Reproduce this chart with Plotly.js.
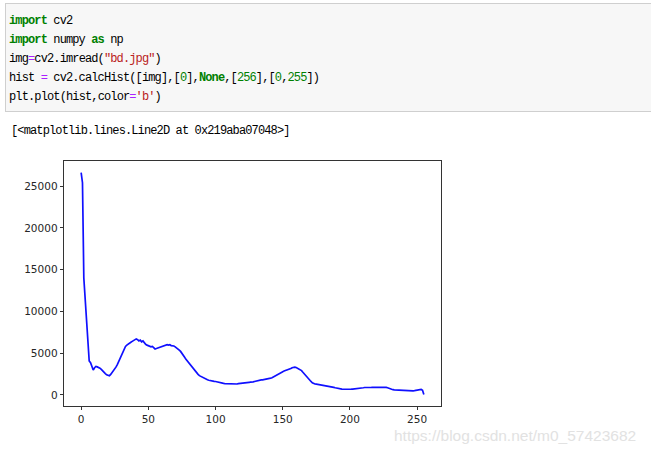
<!DOCTYPE html>
<html>
<head>
<meta charset="utf-8">
<script src="https://cdn.plot.ly/plotly-3.0.1.min.js"></script>
<style>
  html, body { margin:0; padding:0; background:#fff; width:651px; height:456px; overflow:hidden; }
  #cell { position:absolute; left:5px; top:3px; width:700px; height:109px; background:#f7f7f7; border:1px solid #cfcfcf; box-sizing:border-box; }
  .tok { position:absolute; font-family:"Liberation Mono","DejaVu Sans Mono",monospace; font-size:12px; letter-spacing:-0.87px; color:#000; white-space:pre; line-height:14px; }
  .k { color:#008000; font-weight:bold; }
  .o { color:#aa22ff; }
  .s { color:#ba2121; }
  .n { color:#008000; }
  #plot { position:absolute; left:0; top:0; width:651px; height:456px; }
  #wm { position:absolute; left:394px; top:427px; font-family:"Liberation Sans",Arial,sans-serif; font-size:15.5px; color:#e2e2e2; white-space:pre; }
</style>
</head>
<body>
<div id="cell"></div>
<div id="codeLayer"></div>
<div id="plot"></div>
<div id="wm">https://blog.csdn.net/m0_57423682</div>
<script>
// Notebook cell text: each line is a list of [text, style] tokens
const codeLines = [
  [["import", "k"], [" cv2", ""]],
  [["import", "k"], [" numpy ", ""], ["as", "k"], [" np", ""]],
  [["img", ""], ["=", "o"], ["cv2.imread(", ""], ["\"bd.jpg\"", "s"], [")", ""]],
  [["hist ", ""], ["=", "o"], [" cv2.calcHist([img],[", ""], ["0", "n"], ["],", ""], ["None", "k"], [",[", ""], ["256", "n"], ["],[", ""], ["0", "n"], [",", ""], ["255", "n"], ["])", ""]],
  [["plt.plot(hist,color", ""], ["=", "o"], ["'b'", "s"], [")", ""]]
];
const outputLine = "[<matplotlib.lines.Line2D at 0x219aba07048>]";

const histValues = [
  26600, 25400, 14000, 11600, 9300, 6500, 4050, 3850, 3300, 2980,
  3250, 3400, 3350, 3300, 3200, 3050, 2850, 2700, 2550, 2400,
  2300, 2280, 2450, 2650, 2900, 3150, 3350, 3650, 4000, 4400,
  4850, 5200, 5550, 5800, 5950, 6100, 6200, 6300, 6400, 6500,
  6650, 6700, 6600, 6450, 6550, 6350, 6450, 6200, 6050, 5950,
  5900, 5850, 5750, 5800, 5650, 5500, 5550, 5600, 5700, 5700,
  5800, 5850, 5900, 5950, 6000, 5950, 6000, 5900, 5900, 5850,
  5750, 5650, 5500, 5350, 5200, 5000, 4750, 4500, 4250, 4050,
  3800, 3600, 3350, 3150, 2950, 2800, 2600, 2450, 2300, 2200,
  2100, 2000, 1900, 1850, 1800, 1750, 1700, 1680, 1650, 1620,
  1600, 1550, 1500, 1450, 1420, 1400, 1380, 1350, 1340, 1320,
  1310, 1300, 1310, 1300, 1310, 1320, 1300, 1350, 1380, 1400,
  1420, 1400, 1430, 1450, 1480, 1500, 1520, 1500, 1550, 1600,
  1650, 1680, 1700, 1750, 1800, 1800, 1820, 1850, 1900, 1920,
  1950, 2000, 2050, 2150, 2250, 2350, 2450, 2550, 2600, 2700,
  2780, 2850, 2900, 2980, 3050, 3100, 3150, 3250, 3300, 3320,
  3280, 3200, 3150, 3050, 2900, 2700, 2500, 2300, 2150, 2000,
  1800, 1600, 1450, 1350, 1300, 1280, 1250, 1230, 1200, 1200,
  1180, 1150, 1150, 1120, 1100, 1050, 1000, 950, 900, 850,
  800, 750, 720, 700, 680, 670, 660, 660, 650, 660,
  670, 680, 690, 700, 720, 740, 760, 780, 800, 820,
  850, 880, 900, 890, 900, 880, 900, 910, 890, 900,
  880, 890, 900, 910, 920, 930, 920, 900, 850, 780,
  700, 650, 620, 600, 590, 580, 570, 560, 560, 550,
  530, 500, 460, 430, 420, 430, 450, 480, 500, 520,
  550, 580, 620, 650, 550, 30
];
const bins = histValues.map((_, i) => i);
const xTicks = [0, 50, 100, 150, 200, 250];
const yTicks = [0, 5000, 10000, 15000, 20000, 25000];

// place code tokens on a fixed character grid
const layer = document.getElementById('codeLayer');
const charW = 6.33;
function placeTokens(tokens, left, top) {
  let col = 0;
  tokens.forEach(([text, cls]) => {
    const lead = text.length - text.replace(/^ +/, '').length;
    const body = text.trim();
    if (body.length) {
      const el = document.createElement('span');
      el.className = 'tok ' + cls;
      el.textContent = body;
      el.style.left = (left + (col + lead) * charW) + 'px';
      el.style.top = top + 'px';
      layer.appendChild(el);
    }
    col += text.length;
  });
}
codeLines.forEach((tokens, i) => placeTokens(tokens, 9, 13.5 + i * 19));
placeTokens([[outputLine, ""]], 11, 123.5);

const axisCommon = {
  showgrid: false, zeroline: false, showline: true, mirror: true,
  linecolor: '#000', linewidth: 0.8,
  ticks: 'outside', ticklen: 3.5, tickwidth: 0.8, tickcolor: '#000',
  tickfont: { family: 'DejaVu Sans, sans-serif', size: 10.5, color: '#262626' },
  tickmode: 'array', fixedrange: true
};

Plotly.newPlot('plot', [{
  x: bins, y: histValues, type: 'scatter', mode: 'lines',
  line: { color: '#1010ff', width: 1.7 }, hoverinfo: 'skip'
}], {
  width: 651, height: 456,
  margin: { l: 64, r: 210, t: 161, b: 50, pad: 0 },
  paper_bgcolor: 'rgba(0,0,0,0)', plot_bgcolor: 'rgba(0,0,0,0)',
  showlegend: false,
  xaxis: Object.assign({}, axisCommon, { range: [-12.75, 267.75], tickvals: xTicks, ticktext: xTicks.map(String) }),
  yaxis: Object.assign({}, axisCommon, { range: [-1334, 28000], tickvals: yTicks, ticktext: yTicks.map(String) })
}, { staticPlot: true, displayModeBar: false });
</script>
</body>
</html>
